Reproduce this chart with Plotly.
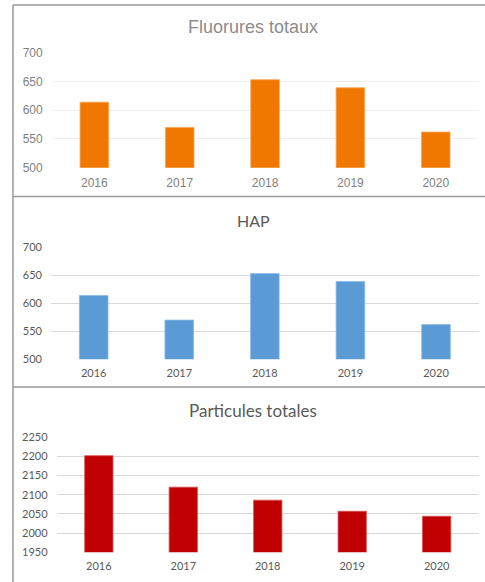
import plotly.graph_objects as go

W, H = 485, 582

years = ["2016", "2017", "2018", "2019", "2020"]
fluorures = [614, 570, 653, 639, 562]
hap = [614, 570, 653, 639, 562]
particules = [2202, 2120, 2086, 2057, 2044]

fluor_ticks = [500, 550, 600, 650, 700]
hap_ticks = [500, 550, 600, 650, 700]
part_ticks = [1950, 2000, 2050, 2100, 2150, 2200, 2250]


def px(x):
    return x / W


def py(y):
    return 1 - y / H


fig = go.Figure()

panels = [
    dict(vals=fluorures, ticks=fluor_ticks, color="#F07800", line="#F6A557",
         xd=(51.7, 478.4), yd=(167.7, 52.7), rng=(500, 700),
         grid="#EFEFEF", font="Liberation Sans, Arial", tcol="#7F7F7F",
         title="Fluorures totaux", ty=26.7, tsize=18, tcolor="#8C8C8C", tfont="Liberation Sans, Arial", tick_size=12),
    dict(vals=hap, ticks=hap_ticks, color="#5B9BD5", line="#8DBBE4",
         xd=(50.9, 478.8), yd=(359.3, 247.3), rng=(500, 700),
         grid="#D9D9D9", font="Lato", tcol="#595959",
         title="HAP", ty=220.7, tsize=16, tcolor="#595959", tfont="Lato", tick_size=11),
    dict(vals=particules, ticks=part_ticks, color="#C00000", line="#D65050",
         xd=(56.6, 478.9), yd=(552.3, 437.3), rng=(1950, 2250),
         grid="#D9D9D9", font="Lato", tcol="#595959",
         title="Particules totales", ty=410, tsize=17, tcolor="#595959", tfont="Lato", tick_size=11),
]

annotations = []
for i, p in enumerate(panels, start=1):
    xa = "x" if i == 1 else f"x{i}"
    ya = "y" if i == 1 else f"y{i}"
    fig.add_trace(go.Bar(
        x=years, y=p["vals"],
        marker=dict(color=p["color"], line=dict(color=p["line"], width=0.8)),
        xaxis=xa, yaxis=ya, showlegend=False,
    ))
    xkey = "xaxis" if i == 1 else f"xaxis{i}"
    ykey = "yaxis" if i == 1 else f"yaxis{i}"
    fig.update_layout(**{
        xkey: dict(domain=[px(p["xd"][0]), px(p["xd"][1])], anchor=ya,
                   showgrid=False, showline=False, zeroline=False, ticks="",
                   automargin=False,
                   tickfont=dict(family=p["font"], size=p["tick_size"], color=p["tcol"]),
                   ticklabelstandoff=6, fixedrange=True),
        ykey: dict(domain=[py(p["yd"][0]), py(p["yd"][1])], anchor=xa,
                   range=list(p["rng"]), tickvals=p["ticks"],
                   showgrid=True, gridcolor=p["grid"], gridwidth=1,
                   showline=False, zeroline=False, ticks="",
                   automargin=False,
                   tickfont=dict(family=p["font"], size=p["tick_size"], color=p["tcol"]),
                   ticklabelstandoff=8, fixedrange=True),
    })
    annotations.append(dict(
        text=p["title"], x=px(253), y=py(p["ty"]), xref="paper", yref="paper",
        xanchor="center", yanchor="middle", showarrow=False,
        font=dict(family=p["tfont"], size=p["tsize"], color=p["tcolor"]),
    ))

border = "#9A9A9A"
shapes = [
    dict(type="line", xref="paper", yref="paper", x0=px(13), x1=1, y0=py(5), y1=py(5),
         line=dict(color=border, width=1.5)),
    dict(type="line", xref="paper", yref="paper", x0=px(13), x1=px(13), y0=py(5), y1=0,
         line=dict(color=border, width=1.5)),
    dict(type="line", xref="paper", yref="paper", x0=px(13), x1=1, y0=py(196.5), y1=py(196.5),
         line=dict(color=border, width=1.5)),
    dict(type="line", xref="paper", yref="paper", x0=px(13), x1=1, y0=py(387), y1=py(387),
         line=dict(color=border, width=1.5)),
]

fig.update_layout(
    width=W, height=H, margin=dict(l=0, r=0, t=0, b=0, autoexpand=False),
    paper_bgcolor="white", plot_bgcolor="white",
    bargap=0.665, annotations=annotations, shapes=shapes,
)

fig.write_html(
    "out.html",
    config={"displayModeBar": False},
    post_script="document.body.style.margin='0';document.body.style.overflow='hidden';",
)
